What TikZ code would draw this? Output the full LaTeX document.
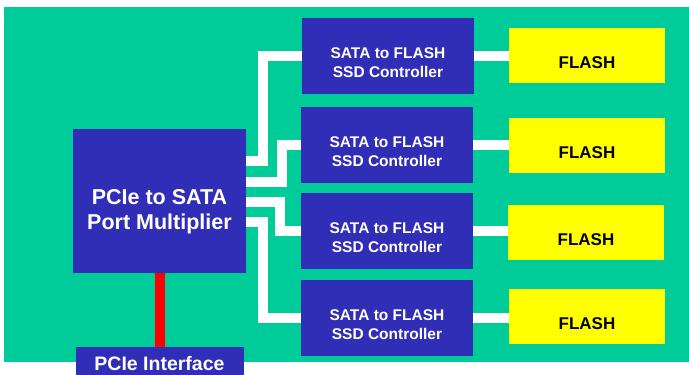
\documentclass[tikz,border=0pt]{standalone}
\usepackage{fontspec}
\setmainfont{Liberation Sans}
\definecolor{boardgreen}{RGB}{0,204,153}
\definecolor{chipblue}{RGB}{48,45,182}
\definecolor{flashyellow}{RGB}{255,255,0}

\begin{document}
\begin{tikzpicture}[x=1pt, y=-1pt,
        font=\bfseries,
        mux/.style={fill=chipblue, inner sep=0pt, outer sep=0pt, minimum width=173pt, minimum height=144pt},
        ctrl/.style={fill=chipblue, inner sep=0pt, outer sep=0pt, minimum width=172pt, minimum height=76pt,
            label={[white, align=center, yshift=-7pt, font=\bfseries\fontsize{15.5}{19}\selectfont]center:SATA to FLASH\\SSD Controller}},
        flash/.style={fill=flashyellow, inner sep=0pt, outer sep=0pt, minimum width=156pt, minimum height=55pt,
            label={[black, yshift=-7pt, font=\bfseries\fontsize{17}{20}\selectfont]center:FLASH}},
        iface/.style={fill=chipblue, text=white, inner sep=0pt, outer sep=0pt, minimum width=168pt, minimum height=34pt},
        link/.style={draw=white, line width=10pt},
        feed/.style={draw=red, line width=10pt}
    ]
        \useasboundingbox (0,0) rectangle (689,375);
        \fill[boardgreen] (4,7) rectangle (689,362);

        \node[mux, label={[white, align=center, yshift=-11pt, font=\bfseries\fontsize{21.5}{25}\selectfont]center:PCIe to SATA\\Port Multiplier}] (mux) at (159.5,201) {};

        \node[ctrl] (ctrl1) at (388,56) {};
        \node[ctrl] (ctrl2) at (387,145) {};
        \node[ctrl] (ctrl3) at (387,231) {};
        \node[ctrl] (ctrl4) at (387,318) {};

        \node[flash] (flash1) at (587,55.5) {};
        \node[flash] (flash2) at (587,145.5) {};
        \node[flash] (flash3) at (586,232.5) {};
        \node[flash] (flash4) at (587,316.5) {};

        \node[iface, font=\bfseries\fontsize{19.5}{21}\selectfont] (pcie) at (159.5,364) {PCIe Interface};

        % port multiplier to the SSD controllers
        \draw[link] ([yshift=40pt]mux.east) -- ++(17,0) |- (ctrl1.west);
        \draw[link] ([yshift=19pt]mux.east) -- ++(36,0) |- (ctrl2.west);
        \draw[link] ([yshift=-1pt]mux.east) -- ++(34,0) |- (ctrl3.west);
        \draw[link] ([yshift=-21pt]mux.east) -- ++(17,0) |- (ctrl4.west);

        % controllers to flash
        \draw[link] (ctrl1.east) -- (ctrl1.east -| flash1.west);
        \draw[link] (ctrl2.east) -- (ctrl2.east -| flash2.west);
        \draw[link] (ctrl3.east) -- (ctrl3.east -| flash3.west);
        \draw[link] (ctrl4.east) -- (ctrl4.east -| flash4.west);

        \draw[feed] (mux.south) -- (pcie.north);
    \end{tikzpicture}
\end{document}
